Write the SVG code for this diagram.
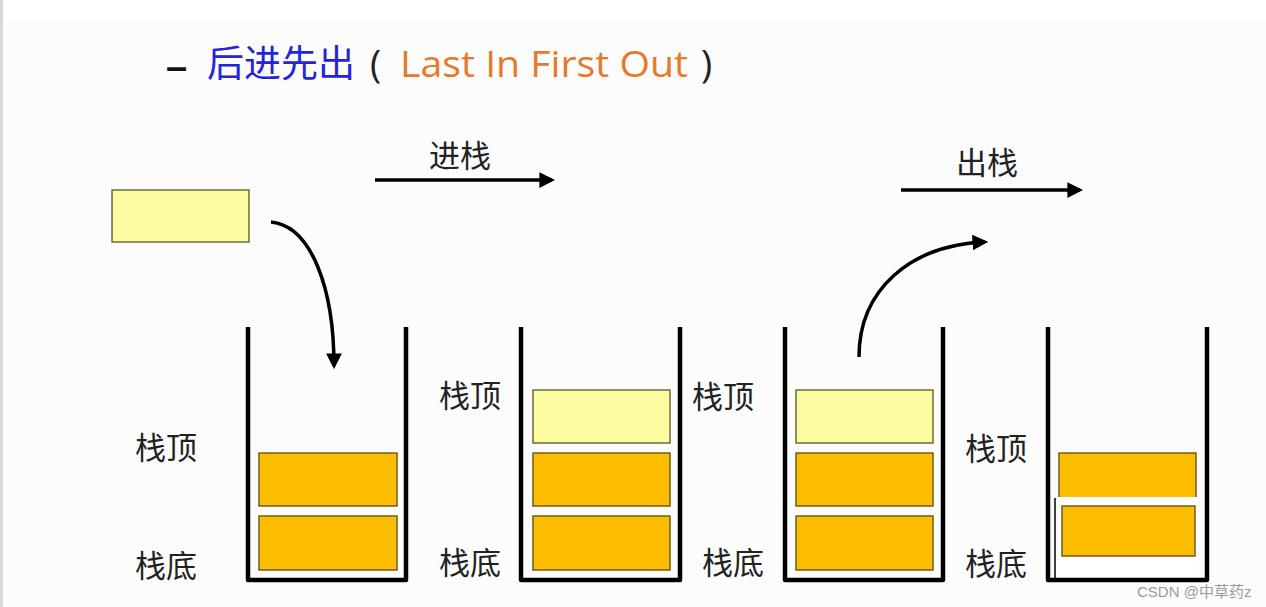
<svg xmlns="http://www.w3.org/2000/svg" width="1266" height="607" viewBox="0 0 1266 607">
<defs>
<marker id="ah" viewBox="0 0 10 10" refX="8" refY="5" markerWidth="4.5" markerHeight="4.5" orient="auto" markerUnits="strokeWidth"><path d="M0,0 L10,5 L0,10 z" fill="#000"/></marker>
<style>
.wall{fill:none;stroke:#000;stroke-width:4.5;stroke-linejoin:round}
.full{fill:#fdbd00;stroke:#6e5c1e;stroke-width:1.5}
.light{fill:#fbfb9f;stroke:#6e6a3a;stroke-width:1.5}
.lbl{font-family:"Noto Sans CJK SC",sans-serif;font-size:31px;fill:#222}
.conn{fill:none;stroke:#000;stroke-width:3.5}
</style>
</defs>
<rect x="0" y="0" width="1266" height="607" fill="#fcfcfc"/>
<rect x="0" y="0" width="1266" height="20" fill="#ffffff"/>
<rect x="0" y="0" width="3" height="607" fill="#d8d8d8"/>

<g id="title">
<text x="166" y="80" font-family="Liberation Sans,sans-serif" font-size="38" font-weight="bold" fill="#111">–</text>
<text x="207" y="77" font-family="Noto Sans CJK SC,sans-serif" font-size="37" fill="#2424d8">后进先出</text>
<text x="370" y="78" font-family="Open Sans,sans-serif" font-size="38" fill="#222">(</text>
<text x="400" y="77" font-family="Open Sans,sans-serif" font-size="36" fill="#e8782a" textLength="288" lengthAdjust="spacingAndGlyphs">Last In First Out</text>
<text x="701" y="78" font-family="Open Sans,sans-serif" font-size="38" fill="#222">)</text>
</g>

<g id="new-item"><rect class="light" x="112" y="190" width="137" height="52"/></g>

<g id="stack1">
<path class="wall" d="M248,327 V580 H406 V327"/>
<rect class="full" x="259" y="453" width="138" height="53"/>
<rect class="full" x="259" y="516" width="138" height="54"/>
<text class="lbl" x="135" y="459">栈顶</text>
<text class="lbl" x="135" y="577">栈底</text>
</g>

<g id="stack2">
<path class="wall" d="M521,327 V580 H680 V327"/>
<rect class="light" x="533" y="390" width="137" height="53"/>
<rect class="full" x="533" y="453" width="137" height="53"/>
<rect class="full" x="533" y="516" width="137" height="54"/>
<text class="lbl" x="439" y="407">栈顶</text>
<text class="lbl" x="439" y="574">栈底</text>
</g>

<g id="stack3">
<path class="wall" d="M785,327 V580 H943 V327"/>
<rect class="light" x="796" y="390" width="137" height="53"/>
<rect class="full" x="796" y="453" width="137" height="53"/>
<rect class="full" x="796" y="516" width="137" height="54"/>
<text class="lbl" x="692" y="408">栈顶</text>
<text class="lbl" x="702" y="574">栈底</text>
</g>

<g id="stack4">
<path class="wall" d="M1048,327 V580 H1207 V327"/>
<rect class="full" x="1059" y="453" width="137" height="50"/>
<rect x="1055" y="497" width="143" height="80" fill="#ffffff"/>
<line x1="1055" y1="498" x2="1055" y2="578" stroke="#000" stroke-width="1.5"/>
<rect class="full" x="1062" y="506" width="133" height="50"/>
<text class="lbl" x="965" y="460">栈顶</text>
<text class="lbl" x="965" y="575">栈底</text>
</g>

<g id="connectors">
<line class="conn" x1="375" y1="180" x2="552" y2="180" marker-end="url(#ah)"/>
<line class="conn" x1="901" y1="190" x2="1080" y2="190" marker-end="url(#ah)"/>
<path class="conn" d="M271,222 C312,226 334,290 334,366" marker-end="url(#ah)"/>
<path class="conn" d="M859,357 C859,290 910,245 985,242" marker-end="url(#ah)"/>
</g>

<g id="push-label"><text class="lbl" x="429" y="167">进栈</text></g>
<g id="pop-label"><text class="lbl" x="956" y="174">出栈</text></g>

<text x="1137" y="597" font-family="Liberation Sans,Noto Sans CJK SC,sans-serif" font-size="15" fill="#9a9a9a">CSDN @中草药z</text>
</svg>
